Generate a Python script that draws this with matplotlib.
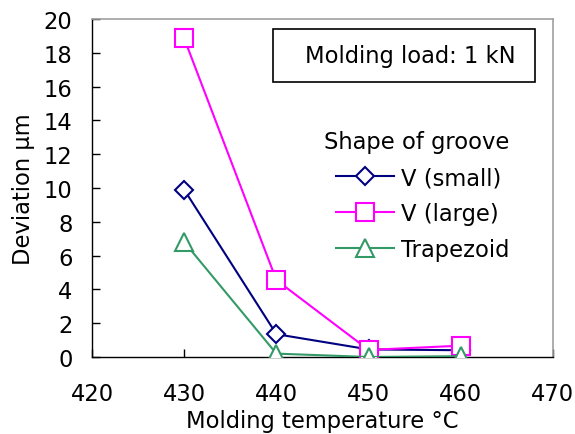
import matplotlib
matplotlib.use("Agg")
import matplotlib.pyplot as plt
from matplotlib.patches import Rectangle

temps = [430, 440, 450, 460]
v_small = [9.9, 1.35, 0.45, 0.4]
v_large = [18.85, 4.55, 0.42, 0.67]
trapezoid = [6.8, 0.2, 0.0, 0.05]
series_names = ["V (small)", "V (large)", "Trapezoid"]
xticks = [420, 430, 440, 450, 460, 470]
yticks = [0, 2, 4, 6, 8, 10, 12, 14, 16, 18, 20]

plt.rcParams['font.family'] = ['DejaVu Sans']
fs = 16.3

fig = plt.figure(figsize=(5.75, 4.35), dpi=100)
ax = fig.add_axes([0.16, 0.177, 0.8017, 0.777])

ax.plot(temps, v_small, color='#000080', lw=1.5, marker='D', ms=9.5,
        mfc='white', mec='#000080', mew=1.5, label=series_names[0], zorder=3)
ax.plot(temps, v_large, color='#FF00FF', lw=1.5, marker='s', ms=13,
        mfc='white', mec='#FF00FF', mew=1.5, label=series_names[1], zorder=3)
ax.plot(temps, trapezoid, color='#339966', lw=1.5, marker='^', ms=13,
        mfc='white', mec='#339966', mew=1.5, label=series_names[2], zorder=4)

ax.set_xlim(420, 470)
ax.set_ylim(0, 20)
ax.set_xticks(xticks)
ax.set_yticks(yticks)
ax.tick_params(direction='in', length=6, width=1, labelsize=fs)
ax.tick_params(axis='x', pad=18)
ax.tick_params(axis='y', pad=14)
for s in ['top', 'right']:
    ax.spines[s].set_color('#a0a0a0')
    ax.spines[s].set_linewidth(1.2)
for s in ['left', 'bottom']:
    ax.spines[s].set_color('black')
    ax.spines[s].set_linewidth(1.0)

ax.set_xlabel('Molding temperature °C', fontsize=fs, labelpad=3)
ax.set_ylabel('Deviation µm', fontsize=fs, labelpad=6)

leg = ax.legend(loc='center', bbox_to_anchor=(0.725, 0.548),
                bbox_transform=fig.transFigure, frameon=False,
                title='Shape of groove', title_fontsize=fs, fontsize=fs,
                handlelength=2.6, handletextpad=0.3, labelspacing=0.58)
leg._legend_box.align = "right"

rect = Rectangle((273/575, 1-83/435), (535-273)/575, (83-30)/435,
                 transform=fig.transFigure, fill=False, edgecolor='black', lw=1.2)
fig.patches.append(rect)
fig.text(305/575, 1-56/435, 'Molding load: 1 kN', fontsize=fs, ha='left', va='center')

fig.savefig('out.png', dpi=100)
